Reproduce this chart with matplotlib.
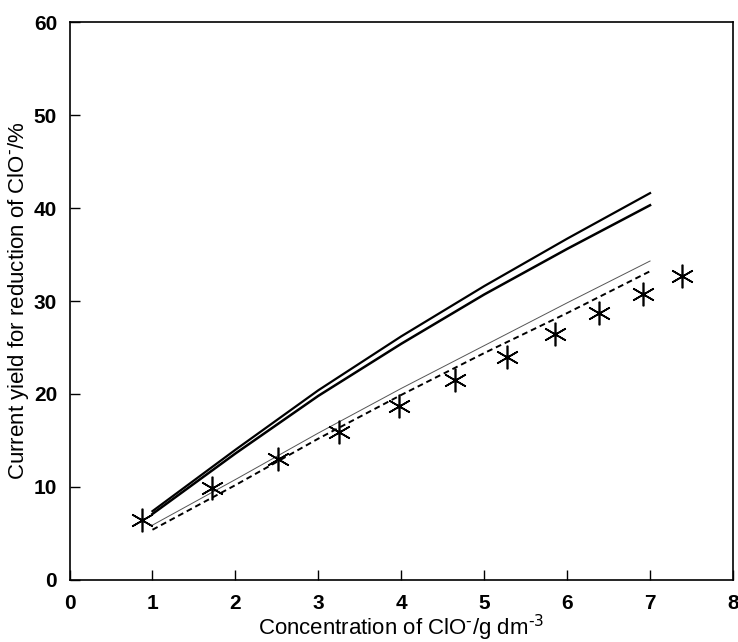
import matplotlib
matplotlib.use("Agg")
import matplotlib.pyplot as plt

# Data
conc_model = [1, 2, 3, 4, 5, 6, 7]
model_a = [7.4, 14.0, 20.4, 26.2, 31.6, 36.7, 41.6]
model_b = [7.1, 13.6, 19.8, 25.4, 30.7, 35.6, 40.3]
model_c = [5.9, 10.8, 15.8, 20.6, 25.2, 29.8, 34.3]
model_d = [5.4, 10.2, 15.2, 19.9, 24.4, 28.7, 33.2]

conc_exp = [0.87, 1.72, 2.51, 3.25, 3.97, 4.65, 5.27, 5.85, 6.39, 6.91, 7.39]
yield_exp = [6.45, 9.9, 13.0, 15.95, 18.7, 21.5, 24.0, 26.5, 28.7, 30.8, 32.7]

x_ticks = [0, 1, 2, 3, 4, 5, 6, 7, 8]
y_ticks = [0, 10, 20, 30, 40, 50, 60]

plt.rcParams['font.family'] = ['Liberation Sans', 'DejaVu Sans']

fig = plt.figure(figsize=(7.38, 6.42), dpi=100)
ax = fig.add_axes([0.0942, 0.0966, 0.8990, 0.8691])

ax.plot(conc_model, model_a, color='black', lw=1.6)
ax.plot(conc_model, model_b, color='black', lw=1.8)
ax.plot(conc_model, model_c, color='#555555', lw=0.7)
ax.plot(conc_model, model_d, color='black', lw=1.4, ls=(0, (3, 2)))
ax.plot(conc_exp, yield_exp, ls='none', marker=(6, 2, 0), ms=17, mew=1.2, color='black')

ax.set_xlim(0, 8)
ax.set_ylim(0, 60)
ax.set_xticks(x_ticks)
ax.set_yticks(y_ticks)
ax.tick_params(direction='in', length=7, width=1, labelsize=15)
ax.tick_params(axis='x', pad=10)
ax.tick_params(axis='y', pad=9)
for lab in ax.get_xticklabels() + ax.get_yticklabels():
    lab.set_fontweight('bold')
for s in ax.spines.values():
    s.set_linewidth(1.2)

ax.set_xlabel('Concentration of ClO$^{\\text{-}}$/g dm$^{\\text{-3}}$', fontsize=16, labelpad=0)
ax.set_ylabel('Current yield for reduction of ClO$^{\\text{-}}$/%', fontsize=16, labelpad=2)

fig.savefig('out.png', dpi=100)
